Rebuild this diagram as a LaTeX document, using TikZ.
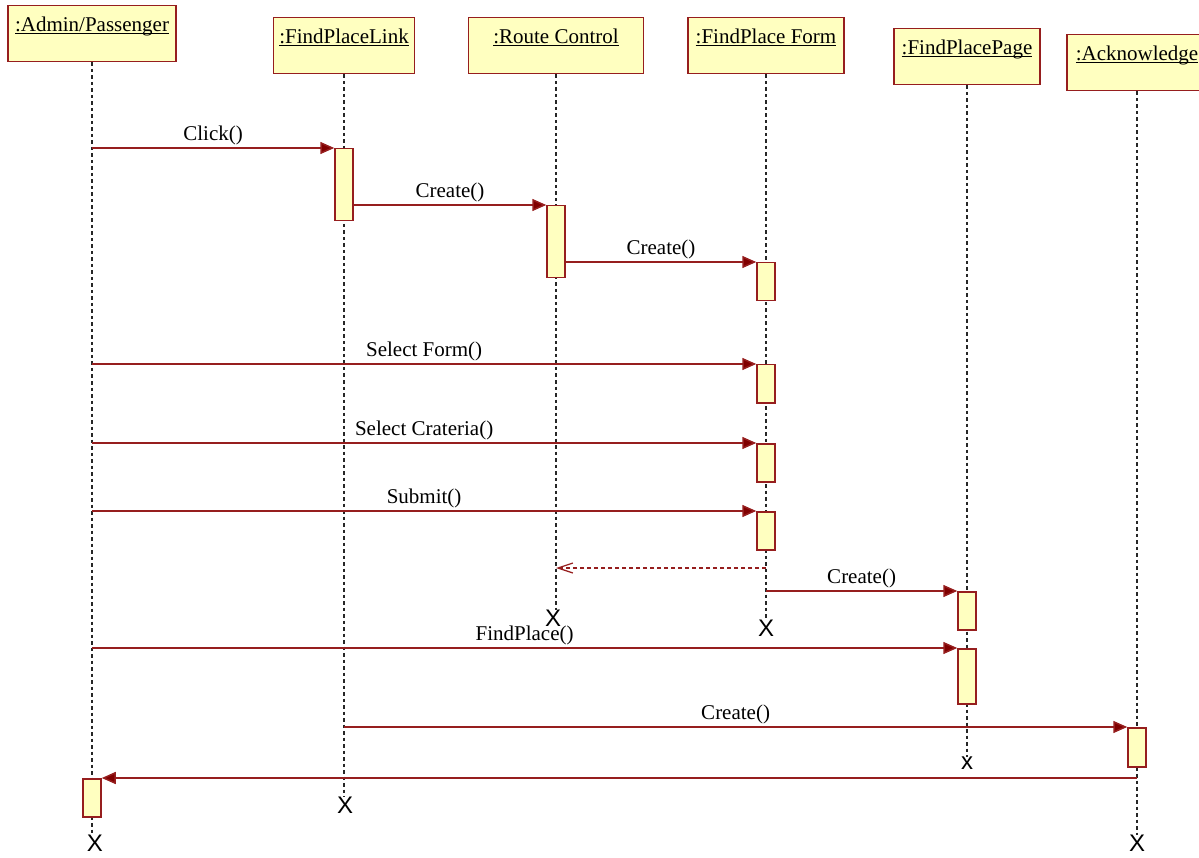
\documentclass[tikz,border=0pt]{standalone}
\usepackage{fontspec}
\setmainfont{Liberation Serif}
\newfontfamily\xfont{Liberation Sans}
\usetikzlibrary{arrows.meta}
\definecolor{umlred}{RGB}{150,30,30}
\definecolor{umlarrow}{RGB}{128,0,0}
\definecolor{umlfill}{RGB}{255,255,192}
\newcommand{\objname}[1]{\setbox0\hbox{#1}\rlap{\rule[-2.5pt]{\wd0}{1.4pt}}\box0}
\tikzset{
  objeto/.style={draw=umlred, fill=umlfill, line width=1.5pt, anchor=north, inner xsep=4pt, inner ysep=6pt,
    text height=20pt, text depth=24pt, minimum height=56pt, font=\fontsize{21}{25}\selectfont},
  activ/.style={draw=umlred, fill=umlfill, line width=1.5pt, anchor=north, inner sep=0pt, minimum width=18pt},
  vida/.style={black!85, line width=1.6pt, dash pattern=on 3.5pt off 3pt},
  msg/.style={umlred, line width=1.5pt, -{Triangle[length=14pt,width=12pt,fill=umlarrow]}},
  ret/.style={umlred, line width=1.2pt, dash pattern=on 4pt off 3pt, -{Straight Barb[length=15pt,width=10pt]}},
  etiq/.style={midway, above, inner sep=2pt, font=\fontsize{21}{25}\selectfont, text=black},
  fin/.style={anchor=north, inner sep=0pt, font=\xfont\fontsize{24}{24}\selectfont},
}
\begin{document}
\begin{tikzpicture}[x=1pt, y=-1pt]
        \useasboundingbox (0,0) rectangle (1199,858);
        \clip (0,0) rectangle (1199,858);
        % Objetos
        \node[objeto, minimum width=168pt] (adm) at (92,5) {\objname{:Admin/Passenger}};
        \node[objeto, minimum width=141pt] (lnk) at (344,17) {\objname{:FindPlaceLink}};
        \node[objeto, minimum width=175pt] (rut) at (556,17) {\objname{:Route Control}};
        \node[objeto, minimum width=156pt] (frm) at (766,17) {\objname{:FindPlace Form}};
        \node[objeto, minimum width=146pt] (pag) at (967,28) {\objname{:FindPlacePage}};
        \node[objeto, minimum width=140pt] (ack) at (1137,34) {\objname{:Acknowledge}};
        % Fin de cada linea de vida
        \node[fin] (xadm) at (95,835) {X};
        \node[fin] (xlnk) at (345,797) {X};
        \node[fin] (xrut) at (553,610) {X};
        \node[fin] (xfrm) at (766,620) {X};
        \node[fin] (xpag) at (967,757) {x};
        \node[fin] (xack) at (1137,835) {X};
        % Lineas de vida
        \draw[vida] (adm.south) -- (adm.south |- xadm.north);
        \draw[vida] (lnk.south) -- (lnk.south |- xlnk.north);
        \draw[vida] (rut.south) -- (rut.south |- xrut.north);
        \draw[vida] (frm.south) -- (frm.south |- xfrm.north);
        \draw[vida] (pag.south) -- (pag.south |- xpag.north);
        \draw[vida] (ack.south) -- (ack.south |- xack.north);
        % Activaciones
        \node[activ, minimum height=72pt] (lnk1) at (344,148) {};
        \node[activ, minimum height=72pt] (rut1) at (556,205) {};
        \node[activ, minimum height=38pt] (frm1) at (766,262) {};
        \node[activ, minimum height=38pt] (frm2) at (766,364) {};
        \node[activ, minimum height=38pt] (frm3) at (766,443) {};
        \node[activ, minimum height=38pt] (frm4) at (766,511) {};
        \node[activ, minimum height=38pt] (pag1) at (967,591) {};
        \node[activ, minimum height=55pt] (pag2) at (967,648) {};
        \node[activ, minimum height=39pt] (ack1) at (1137,727) {};
        \node[activ, minimum height=38pt] (adm1) at (92,778) {};
        % Puntos sobre las lineas de vida
        \coordinate (a1) at (92,148);
        \coordinate (a2) at (92,364);
        \coordinate (a3) at (92,443);
        \coordinate (a4) at (92,511);
        \coordinate (a5) at (92,648);
        \coordinate (f1) at (766,568);
        \coordinate (r1) at (556,568);
        \coordinate (f2) at (766,591);
        \coordinate (l1) at (344,727);
        \coordinate (k1) at (1137,778);
        % Mensajes
        \draw[msg] (a1) -- (lnk1.north west) node[etiq] {Click()};
        \draw[msg] (rut1.north west -| lnk1.east) -- (rut1.north west) node[etiq] {Create()};
        \draw[msg] (frm1.north west -| rut1.east) -- (frm1.north west) node[etiq] {Create()};
        \draw[msg] (a2) -- (frm2.north west) node[etiq] {Select Form()};
        \draw[msg] (a3) -- (frm3.north west) node[etiq] {Select Crateria()};
        \draw[msg] (a4) -- (frm4.north west) node[etiq] {Submit()};
        \draw[ret] (f1) -- (r1);
        \draw[msg] (f2) -- (pag1.north west) node[etiq] {Create()};
        \draw[msg] (a5) -- (pag2.north west) node[etiq] {FindPlace()};
        \draw[msg] (l1) -- (ack1.north west) node[etiq] {Create()};
        \draw[msg] (k1) -- (adm1.north east);
\end{tikzpicture}
\end{document}
